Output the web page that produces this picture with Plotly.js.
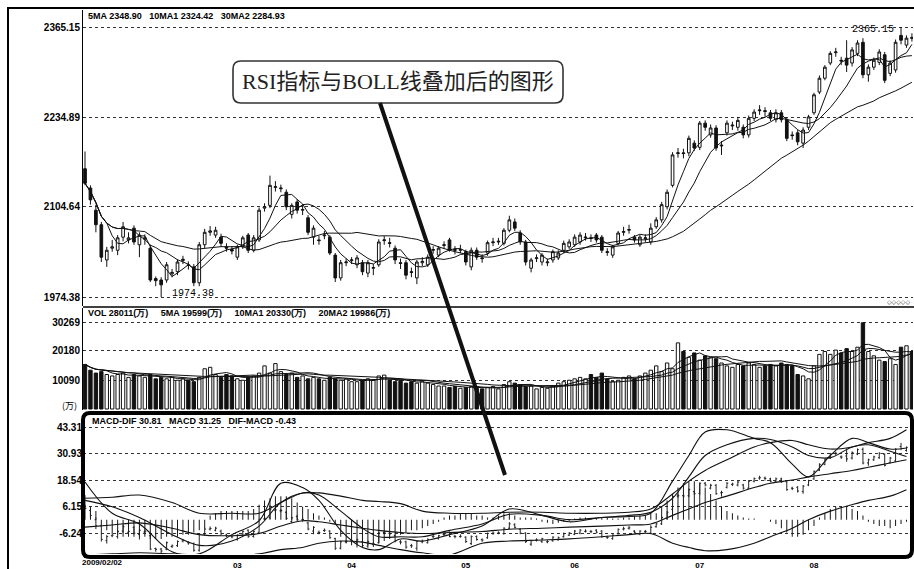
<!DOCTYPE html>
<html>
<head>
<meta charset="utf-8">
<script src="https://cdn.plot.ly/plotly-3.0.1.min.js"></script>
<style>html,body{margin:0;padding:0;background:#fff;}#chart{width:914px;height:569px;}</style>
</head>
<body>
<div id="chart"></div>
<script>
// ---------- DATA ----------
const openP = [2160,2132,2100,2079,2028,2045,2042,2061,2057,2074, 2050,2058,2045,2001,1999,1999,2008,2011,2027,2021,
 2018,1995,2050,2068,2064,2061,2047,2043,2032,2047, 2064,2042,2057,2103,2107,2133,2131,2126,2094,2112,
 2100,2089,2061,2057,2063,2061,2035,2002,2024,2027, 2021,2024,2009,2016,2021,2056,2053,2045,2024,2024,
 2011,2002,2024,2021,2042,2035,2049,2057,2043,2042, 2040,2018,2042,2031,2038,2053,2054,2052,2071,2083,
 2067,2054,2016,2030,2025,2024,2028,2031,2042,2047, 2050,2054,2060,2060,2064,2061,2040,2035,2052,2068,
 2071,2061,2050,2059,2054,2076,2086,2105,2136,2182, 2183,2183,2197,2191,2226,2209,2219,2193,2212,2222,
 2220,2220,2209,2233,2244,2244,2241,2231,2241,2231, 2209,2212,2197,2220,2241,2271,2291,2313,2328,2317,
 2320,2313,2327,2343,2296,2307,2314,2325,2298,2303, 2353,2339,2350];
const highP = [2185,2136,2108,2083,2047,2057,2064,2083,2068,2078, 2068,2065,2050,2004,2003,2025,2015,2029,2034,2026,
 2022,2054,2073,2077,2076,2066,2052,2048,2050,2063, 2067,2064,2104,2110,2150,2142,2137,2130,2110,2116,
 2108,2093,2078,2063,2070,2064,2038,2028,2030,2032, 2035,2028,2028,2022,2058,2063,2060,2049,2030,2028,
 2017,2028,2032,2036,2048,2048,2055,2060,2048,2050, 2043,2046,2046,2036,2056,2060,2060,2074,2092,2088,
 2071,2057,2031,2036,2038,2030,2043,2042,2056,2058, 2065,2068,2067,2065,2067,2064,2045,2050,2070,2076,
 2079,2064,2064,2065,2081,2090,2112,2130,2184,2190, 2189,2208,2201,2229,2230,2224,2223,2200,2230,2228,
 2235,2224,2237,2246,2252,2249,2245,2246,2245,2234, 2214,2216,2220,2238,2270,2295,2310,2330,2335,2322,
 2346,2336,2346,2349,2311,2321,2333,2329,2317,2347, 2365.15,2353,2356];
const lowP = [2136,2108,2068,2025,2018,2040,2035,2055,2052,2050, 2032,2050,1996,1990,1974.38,1995,2003,2006,2022,2014,
 1990,1990,2045,2063,2060,2047,2040,2036,2028,2044, 2038,2039,2054,2098,2103,2127,2126,2100,2088,2095,
 2093,2064,2050,2050,2058,2035,1996,1998,2019,2022, 2016,2006,2003,2006,2018,2050,2046,2022,2015,2000,
 2003,1993,2019,2018,2037,2032,2044,2040,2036,2038, 2020,2013,2028,2024,2034,2048,2050,2049,2068,2070,
 2050,2020,2010,2025,2020,2019,2024,2028,2038,2044, 2047,2050,2056,2054,2053,2038,2034,2031,2049,2063,
 2066,2053,2047,2054,2050,2073,2082,2101,2133,2176, 2175,2178,2186,2187,2215,2205,2186,2180,2208,2216,
 2215,2204,2205,2229,2238,2235,2229,2227,2227,2200, 2202,2194,2190,2216,2238,2268,2288,2310,2322,2310,
 2300,2308,2323,2291,2286,2303,2310,2284,2294,2299, 2340,2335,2344];
const closeP = [2139,2115,2079,2032,2042,2047,2060,2076,2060,2054, 2064,2060,1999,1998,1992,2021,2010,2025,2029,2020,
 1995,2050,2068,2070,2071,2052,2045,2041,2047,2060, 2042,2060,2100,2105,2136,2134,2132,2105,2107,2100,
 2101,2068,2074,2056,2064,2038,2002,2024,2025,2028, 2031,2011,2024,2017,2054,2057,2052,2028,2023,2006,
 2010,2025,2026,2032,2043,2045,2050,2042,2042,2043, 2025,2042,2032,2030,2053,2054,2055,2071,2086,2074,
 2054,2025,2028,2031,2035,2025,2040,2038,2052,2054, 2061,2064,2061,2059,2057,2042,2039,2047,2067,2069,
 2072,2057,2061,2060,2074,2086,2108,2126,2180,2183, 2182,2204,2190,2226,2220,2219,2190,2194,2226,2223,
 2230,2209,2233,2242,2245,2243,2233,2241,2231,2204, 2208,2199,2216,2235,2267,2291,2307,2327,2329,2316,
 2310,2332,2342,2296,2307,2317,2329,2288,2313,2343, 2346,2349,2349];
const volume = [15500,13500,12500,13000,12000,11500,12000,12500,11000,12000,11500,
 11000,12000,10500,11000,10500,11000,10000,10500,10000,9500,11000,
 14000,14500,12000,11000,12000,11500,10500,10000,11000,11500,12500,
 15000,12500,15800,13000,12000,12500,11000,11500,10500,11000,10500,
 10000,11000,10500,10000,10500,9500,9500,10000,10500,10000,11500,
 11800,10000,9500,10000,9000,9500,9000,9500,9000,8500,8000,
 8000,7500,7800,7200,7500,7800,7200,7000,7500,7800,7000,
 8500,9500,9000,8500,7800,8000,7000,7500,7200,8000,9000,
 9500,10000,10500,11000,10500,12000,11000,12500,10500,9500,10000,
 11000,11500,10500,11500,12500,13500,15000,13000,16000,14000,23000,
 20000,18000,19500,17000,18500,18000,17500,16000,15000,14500,15500,
 15000,16000,15500,14500,15000,15500,15000,16000,15500,15000,12000,
 11500,10500,15000,19000,20000,19000,20500,19500,21000,20000,21500,
 30000,20000,18500,17000,16500,17500,15500,21500,22000,20000];
const histVals = [7,6,4,
 -3,-5,-6,-7,-8,-8,-8,-8,-8,-9,-9,-9,-8,-8,-8,-7,-7,-6,-5,-4,
 2,3,4,4,4,4,4,4,5,
 7,9,10,11,11,11,10,8,6,5,3,
 2,1,-1,-2,
 -8,-11,-12,-13,-13,-12,-12,-11,-10,-9,-8,-7,
 -6,-5,-5,-4,-3,-2,-1,1,
 2,2,3,3,3,2,2,1,1,2,3,3,2,1,1,1,0.5,-1,-1.5,-2,-1.5,-1,-0.5,0.5,1,1,0.5,0.5,1,1,0.5,0.5,1,1,1.5,2,2,3,
 3,6,9,12,15,17,18,18,17,15,12,9,6,4,3,2,
 1,0.5,0.5,0,0,-1,
 -2,-4,-6,-8,-8,-7,-5,-3,
 1,3,5,6,6,6,5,4,2,
 -1,-2,-3,-3,-4,-3,-2,-1,0];
// indicator lines, sampled at these bar indices
const lineX   = [0,5,10,16,21,27,32,36,40,43,47,51,54,58,62,67,73,78,84,89,95,100,104,108,111,114,118,123,126,130,133,137,141,144,148,151];
const rsiFast = [17.6,3,-2,-15,-16,-7,-0.5,17,15,9,-5,-13,-14,-9,-10,-7,-3,5,2,-1,1,1.5,3,18,30,41,42,38,36,26,20,30,38,36,33,33.5];
const rsiMid  = [9,6,1,-7,-12,-10,-3,8,12.5,11.5,4,-4,-8,-8,-8,-5,-2,2.5,2,0,1,2,3.5,10,20,30,35,38,37.5,34,30,29,34,35,32,29.5];
const bollUp  = [10,10.5,11.5,8,3,3,3,8,12.5,12.5,11,9,8.5,7.5,4,3,3,3.5,3.5,3,3,3.5,5,12,18,23,28,34,36,37,35,33,34,36,38,42];
const bollMid = [-3.5,-2.5,-1.5,-4,-7,-7.5,-6.5,-3,-0.5,-1,-2.5,-4,-5,-6,-6.5,-6,-5.5,-4.5,-4,-3.5,-3,-2.5,-2,2,5,8,11,15,17,18.5,20,21.5,23,24.5,26.5,28];
const bollLow = [-16.5,-16,-15.5,-16,-16.5,-16.5,-16,-14,-13,-11,-10,-10.5,-12,-14,-15.5,-16.5,-11,-10,-9.5,-9,-8,-7,-6.5,-11,-13,-14.5,-14,-11,-8,-4,0,4,7,9,11,14];
// tick labels
const priceTicks = [1974.38, 2104.64, 2234.89, 2365.15];
const priceTickText = ['1974.38','2104.64','2234.89','2365.15'];
const volTicks = [10090, 20180, 30269];
const volTickText = ['10090','20180','30269'];
const indTicks = [-6.24, 6.15, 18.54, 30.93, 43.31];
const indTickText = ['-6.24','6.15','18.54','30.93','43.31'];
const dateTicks = [0, 28, 49, 70, 90, 113, 134];
const dateTickText = ['', '03', '04', '05', '06', '07', '08'];
const firstDate = '2009/02/02';
const priceHeader = '5MA 2348.90   10MA1 2324.42   30MA2 2284.93';
const volHeader = 'VOL 28011(万)     5MA 19599(万)     10MA1 20330(万)     20MA2 19986(万)';
const indHeader = 'MACD-DIF 30.81   MACD 31.25   DIF-MACD -0.43';
const calloutText = 'RSI指标与BOLL线叠加后的图形';

// ---------- HELPERS ----------
const N = closeP.length;
const idx = Array.from({length: N}, (_, i) => i);
function ma(a, n) {
  return a.map((_, i) => {
    const s = Math.max(0, i - n + 1);
    let t = 0; for (let k = s; k <= i; k++) t += a[k];
    return t / (i - s + 1);
  });
}
const W = 914, H = 569;
const px = x => x / W;
const py = y => 1 - y / H;
function roundRect(x0, y0, x1, y1, r) {
  const rx = r / W, ry = r / H;
  const a = px(x0), b = px(x1), t = py(y0), u = py(y1);
  return `M ${a+rx} ${t} L ${b-rx} ${t} Q ${b} ${t} ${b} ${t-ry} L ${b} ${u+ry} Q ${b} ${u} ${b-rx} ${u} ` +
         `L ${a+rx} ${u} Q ${a} ${u} ${a} ${u+ry} L ${a} ${t-ry} Q ${a} ${t} ${a+rx} ${t} Z`;
}
const ink = '#111';
const thin = {color: ink, width: 1};
const upDown = idx.map(i => closeP[i] >= openP[i]);

// ---------- TRACES ----------
const traces = [
  {type: 'candlestick', x: idx, open: openP, high: highP, low: lowP, close: closeP,
   xaxis: 'x', yaxis: 'y', whiskerwidth: 0,
   increasing: {line: {color: ink, width: 1}, fillcolor: '#ffffff'},
   decreasing: {line: {color: ink, width: 1}, fillcolor: ink}, hoverinfo: 'skip'},
  {type: 'scatter', mode: 'lines', x: idx, y: ma(closeP, 5), yaxis: 'y', line: thin, hoverinfo: 'skip'},
  {type: 'scatter', mode: 'lines', x: idx, y: ma(closeP, 10), yaxis: 'y', line: thin, hoverinfo: 'skip'},
  {type: 'scatter', mode: 'lines', x: idx, y: ma(closeP, 30), yaxis: 'y', line: thin, hoverinfo: 'skip'},
  {type: 'bar', x: idx, y: volume, yaxis: 'y2', width: 0.62,
   marker: {color: upDown.map(u => u ? '#ffffff' : ink), line: {color: ink, width: 1}}, hoverinfo: 'skip'},
  {type: 'scatter', mode: 'lines', x: idx, y: ma(volume, 5), yaxis: 'y2', line: thin, hoverinfo: 'skip'},
  {type: 'scatter', mode: 'lines', x: idx, y: ma(volume, 10), yaxis: 'y2', line: thin, hoverinfo: 'skip'},
  {type: 'scatter', mode: 'lines', x: idx, y: ma(volume, 20), yaxis: 'y2', line: thin, hoverinfo: 'skip'},
  {type: 'bar', x: idx, y: histVals, yaxis: 'y3', width: 0.18, marker: {color: ink, line: {width: 0}}, hoverinfo: 'skip'},
  {type: 'ohlc', x: idx, open: openP, high: highP, low: lowP, close: closeP, yaxis: 'y4', tickwidth: 0.25,
   increasing: {line: {color: '#222', width: 1}}, decreasing: {line: {color: '#222', width: 1}}, hoverinfo: 'skip'},
  {type: 'scatter', mode: 'lines', x: lineX, y: rsiFast, yaxis: 'y3', line: {color: ink, width: 1.1, shape: 'spline'}, hoverinfo: 'skip'},
  {type: 'scatter', mode: 'lines', x: lineX, y: rsiMid, yaxis: 'y3', line: {color: ink, width: 1.1, shape: 'spline'}, hoverinfo: 'skip'},
  {type: 'scatter', mode: 'lines', x: lineX, y: bollUp, yaxis: 'y3', line: {color: ink, width: 1.1, shape: 'spline'}, hoverinfo: 'skip'},
  {type: 'scatter', mode: 'lines', x: lineX, y: bollMid, yaxis: 'y3', line: {color: ink, width: 1.1, shape: 'spline'}, hoverinfo: 'skip'},
  {type: 'scatter', mode: 'lines', x: lineX, y: bollLow, yaxis: 'y3', line: {color: ink, width: 1.1, shape: 'spline'}, hoverinfo: 'skip'}
];

// ---------- LAYOUT ----------
const tickFont = {family: 'Liberation Sans, Arial, sans-serif', size: 10, color: '#000', weight: 700};
const gridStyle = {showgrid: true, gridcolor: '#333', griddash: 'dot', gridwidth: 1};
const layout = {
  width: W, height: H, margin: {l: 0, r: 0, t: 0, b: 0},
  paper_bgcolor: '#fff', plot_bgcolor: 'rgba(0,0,0,0)',
  showlegend: false, hovermode: false, barmode: 'overlay', dragmode: false,
  xaxis: {domain: [px(83), px(913)], range: [-0.37, 152.2], anchor: 'y3', showgrid: false, zeroline: false,
          tickmode: 'array', tickvals: dateTicks, ticktext: dateTickText, ticks: 'outside', ticklen: 3, tickwidth: 2,
          tickcolor: '#000', tickfont: {family: 'Liberation Sans, Arial, sans-serif', size: 8, color: '#000', weight: 700},
          rangeslider: {visible: false}, showline: false, fixedrange: true},
  yaxis: Object.assign({domain: [py(306), py(10)], range: [1961.35, 2389.75], anchor: 'x', zeroline: false,
          tickmode: 'array', tickvals: priceTicks, ticktext: priceTickText, tickfont: tickFont, ticks: '',
          showline: true, linecolor: '#000', linewidth: 1, fixedrange: true}, gridStyle),
  yaxis2: Object.assign({domain: [py(410), py(308)], range: [-348, 35138], anchor: 'x', zeroline: false,
          tickmode: 'array', tickvals: volTicks, ticktext: volTickText, tickfont: tickFont, ticks: '',
          showline: true, linecolor: '#000', linewidth: 1, fixedrange: true}, gridStyle),
  yaxis3: Object.assign({domain: [py(554), py(418)], range: [-16.05, 47.52], anchor: 'x', zeroline: false,
          tickmode: 'array', tickvals: indTicks, ticktext: indTickText, tickfont: tickFont, ticks: '',
          showline: false, fixedrange: true}, gridStyle),
  yaxis4: {overlaying: 'y3', anchor: 'x', range: [1982, 2451], visible: false, showgrid: false, fixedrange: true},
  shapes: [
    {type: 'line', xref: 'paper', yref: 'paper', x0: px(8), x1: px(8), y0: py(7), y1: 0, line: {color: '#000', width: 2}},
    {type: 'line', xref: 'paper', yref: 'paper', x0: px(8), x1: 1, y0: py(8), y1: py(8), line: {color: '#000', width: 2}},
    {type: 'line', xref: 'paper', yref: 'paper', x0: px(83), x1: 1, y0: py(307), y1: py(307), line: {color: '#000', width: 1.5}},
    {type: 'path', xref: 'paper', yref: 'paper', path: roundRect(83, 413, 912, 557, 7), line: {color: '#000', width: 4}},
    {type: 'path', xref: 'paper', yref: 'paper', path: roundRect(233, 61, 563, 103, 8), line: {color: '#333', width: 1.6}, fillcolor: '#fff'},
    {type: 'line', xref: 'paper', yref: 'paper', x0: px(380), y0: py(103), x1: px(505), y1: py(475), line: {color: '#111', width: 4}}
  ],
  annotations: [
    {xref: 'paper', yref: 'paper', x: px(86), y: py(16), xanchor: 'left', yanchor: 'middle', showarrow: false,
     text: priceHeader, font: {family: 'Liberation Sans, Arial, sans-serif', size: 9, color: '#000', weight: 700}},
    {xref: 'paper', yref: 'paper', x: px(86), y: py(313), xanchor: 'left', yanchor: 'middle', showarrow: false,
     text: volHeader, font: {family: 'Liberation Sans, Arial, sans-serif', size: 9, color: '#000', weight: 700}},
    {xref: 'paper', yref: 'paper', x: px(90), y: py(421), xanchor: 'left', yanchor: 'middle', showarrow: false,
     text: indHeader, font: {family: 'Liberation Sans, Arial, sans-serif', size: 9, color: '#000', weight: 700}},
    {xref: 'paper', yref: 'paper', x: px(79), y: py(405), xanchor: 'right', yanchor: 'middle', showarrow: false,
     text: '(万)', font: {family: 'Noto Sans CJK SC, sans-serif', size: 9, color: '#000'}},
    {xref: 'paper', yref: 'paper', x: px(398), y: py(82), xanchor: 'center', yanchor: 'middle', showarrow: false,
     text: calloutText, font: {family: 'Liberation Serif, Noto Sans CJK SC, serif', size: 22, color: '#222'}},
    {xref: 'x', yref: 'y', x: 15, y: 1974.38, xanchor: 'left', yanchor: 'middle', xshift: 3, yshift: 4, showarrow: false,
     text: '1974.38', font: {family: 'Liberation Mono, monospace', size: 10, color: '#000'}},
    {xref: 'x', yref: 'y', x: 150, y: 2365.15, xanchor: 'right', yanchor: 'middle', xshift: -5, yshift: -3, showarrow: false,
     text: '2365.15', font: {family: 'Liberation Mono, monospace', size: 10, color: '#000'}},
    {xref: 'paper', yref: 'paper', x: px(912), y: py(301), xanchor: 'right', yanchor: 'middle', showarrow: false,
     text: '◇◇◇◇◇', font: {family: 'DejaVu Sans, sans-serif', size: 6, color: '#000'}},
    {xref: 'paper', yref: 'paper', x: px(80), y: py(562), xanchor: 'left', yanchor: 'middle', showarrow: false,
     text: firstDate, font: {family: 'Liberation Sans, Arial, sans-serif', size: 8, color: '#000', weight: 700}}
  ]
};

Plotly.newPlot('chart', traces, layout, {staticPlot: true, displayModeBar: false});
</script>
</body>
</html>
